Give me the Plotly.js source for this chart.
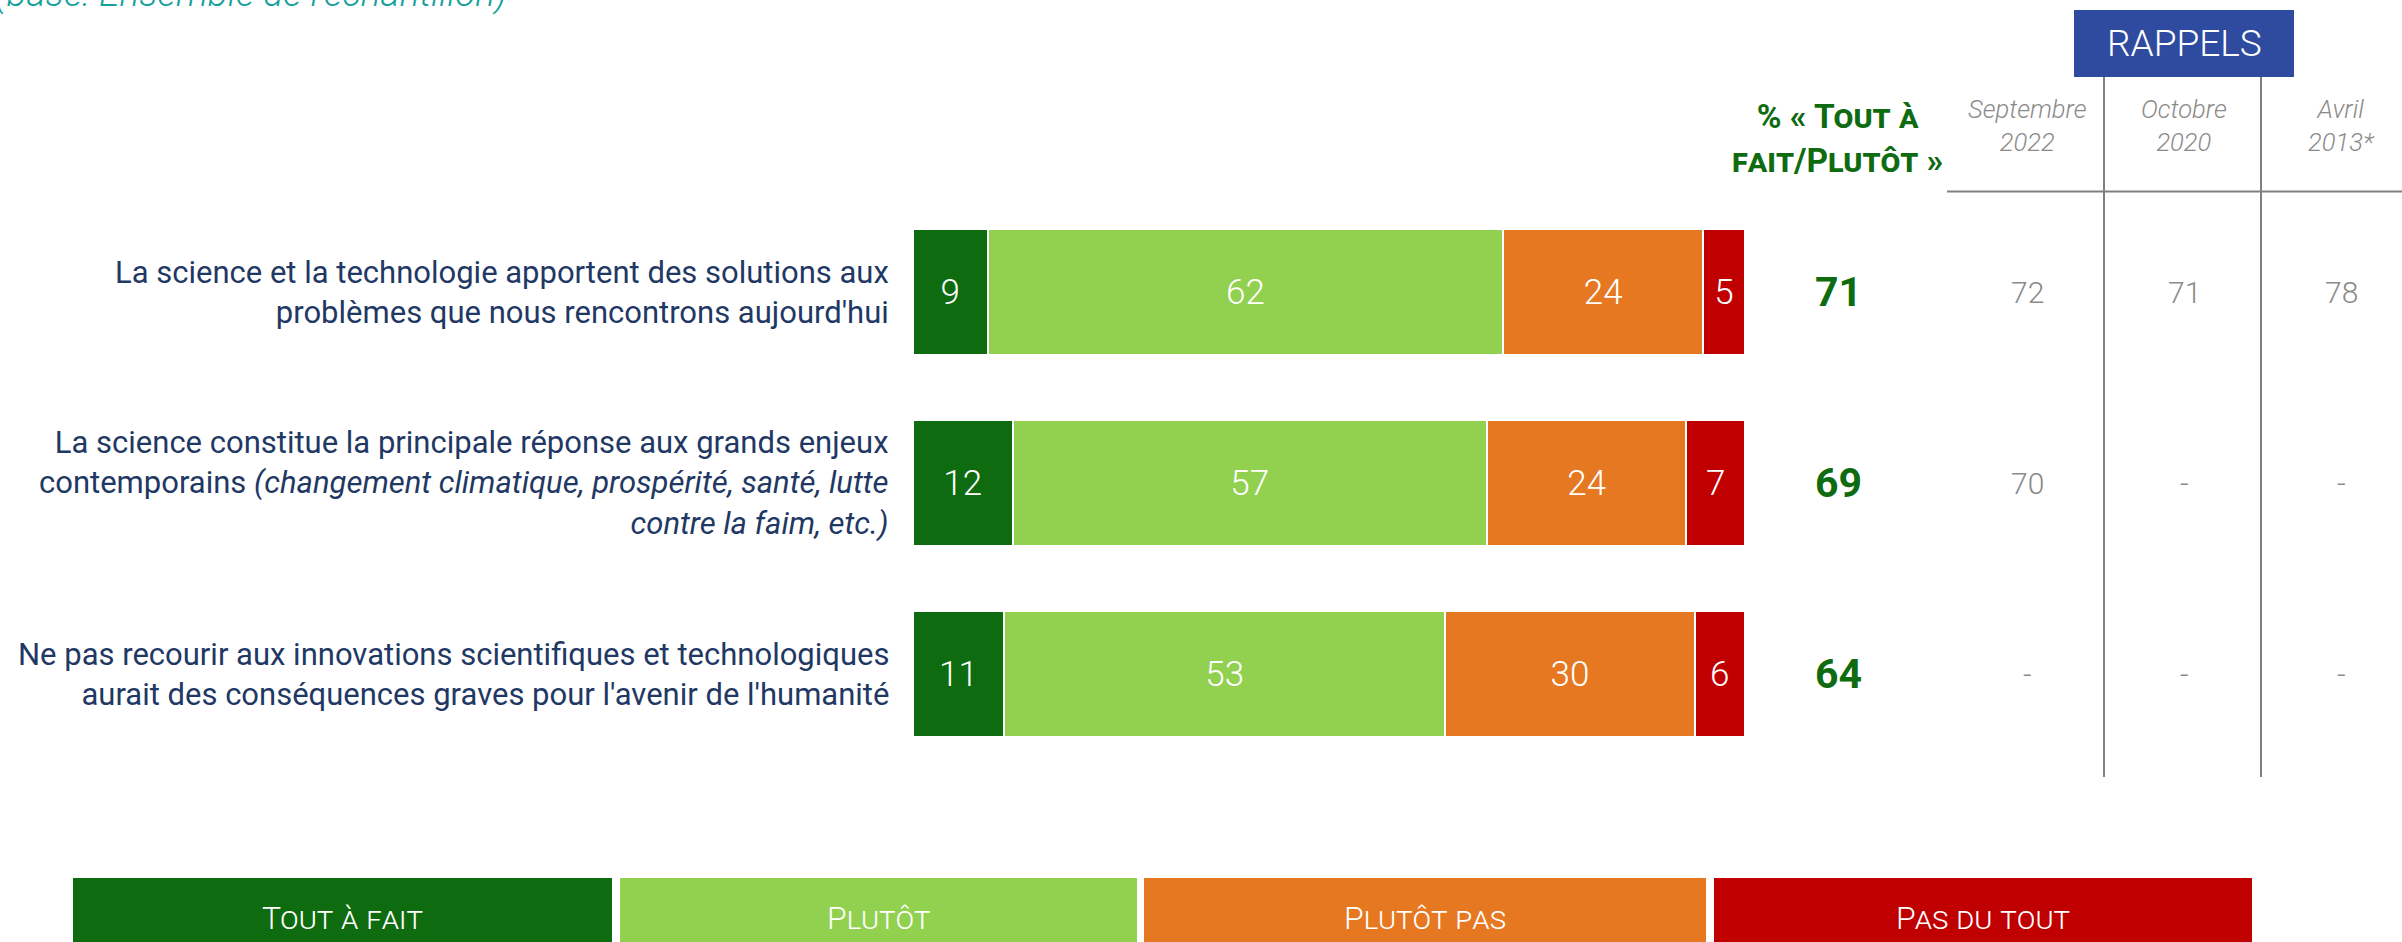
<!DOCTYPE html>
<html>
<head>
<meta charset="utf-8">
<script src="https://cdn.plot.ly/plotly-3.0.1.min.js"></script>
<style>html,body{margin:0;padding:0;background:#fff;}#chart{width:2402px;height:942px;}</style>
</head>
<body>
<div id="chart"></div>
<script>
// ---- data ----
const categories = [
  "La science et la technologie apportent des solutions aux<br>problèmes que nous rencontrons aujourd'hui",
  "La science constitue la principale réponse aux grands enjeux<br>contemporains <i>(changement climatique, prospérité, santé, lutte</i><br><i>contre la faim, etc.)</i>",
  "Ne pas recourir aux innovations scientifiques et technologiques<br>aurait des conséquences graves pour l'avenir de l'humanité"
];
const seriesNames = ["Tout à fait", "Plutôt", "Plutôt pas", "Pas du tout"];
const toutAFait = [9, 12, 11];
const plutot = [62, 57, 53];
const plutotPas = [24, 24, 30];
const pasDuTout = [5, 7, 6];
const totalPositif = [71, 69, 64];
const rappelHeaders = ["Septembre<br>2022", "Octobre<br>2020", "Avril<br>2013*"];
const rappelSept2022 = ["72", "70", "-"];
const rappelOct2020 = ["71", "-", "-"];
const rappelAvr2013 = ["78", "-", "-"];
const subtitle = "(base: Ensemble de l'échantillon)";
const totalHeader = "% « Tout à<br>fait/Plutôt »";
const rappelTitle = "RAPPELS";

// ---- styles ----
const W = 2402, H = 942;
const colors = ["#0E6B10", "#92D050", "#E67822", "#C00000"];
const FONT = "Roboto, 'Noto Sans', sans-serif";
const navy = "#1F3864";
const grey = "#8A8A8A";
const px = v => v / W;            // x pixel -> paper
const py = v => 1 - v / H;        // y pixel (from top) -> paper

const seriesValues = [toutAFait, plutot, plutotPas, pasDuTout];
const traces = seriesValues.map((vals, k) => ({
  type: "bar",
  orientation: "h",
  name: seriesNames[k],
  y: categories,
  x: vals,
  width: 0.655,
  marker: {color: colors[k], line: {color: "#ffffff", width: 2}},
  text: vals.map(String),
  textposition: "inside",
  insidetextanchor: "middle",
  textangle: 0,
  constraintext: "none",
  textfont: {family: FONT, size: 35, color: "#ffffff", weight: 300},
  hoverinfo: "skip",
  showlegend: false
}));

const annotations = [];
// row labels
categories.forEach(c => annotations.push({
  xref: "x", yref: "y", x: 0, y: c, xanchor: "right", yanchor: "middle",
  xshift: -22, text: c, showarrow: false, align: "right",
  font: {family: FONT, size: 31, color: navy}
}));
// totals
categories.forEach((c, i) => annotations.push({
  xref: "paper", yref: "y", x: px(1838), y: c, xanchor: "center", yanchor: "middle",
  text: String(totalPositif[i]), showarrow: false,
  font: {family: FONT, size: 41, color: "#0E6B10", weight: 700}
}));
// rappels
const rappelCols = [rappelSept2022, rappelOct2020, rappelAvr2013];
const rappelX = [2027, 2184, 2341];
rappelCols.forEach((col, j) => {
  categories.forEach((c, i) => annotations.push({
    xref: "paper", yref: "y", x: px(rappelX[j]), y: c, xanchor: "center", yanchor: "middle",
    text: col[i], showarrow: false,
    font: {family: FONT, size: 30, color: grey, weight: 300}
  }));
  annotations.push({
    xref: "paper", yref: "paper", x: px(rappelX[j]), y: py(126), xanchor: "center", yanchor: "middle",
    text: "<i>" + rappelHeaders[j] + "</i>", showarrow: false,
    font: {family: FONT, size: 25.5, color: grey, weight: 300}
  });
});
// total header
annotations.push({
  xref: "paper", yref: "paper", x: px(1837), y: py(139), xanchor: "center", yanchor: "middle",
  text: totalHeader, showarrow: false,
  font: {family: FONT, size: 33.5, color: "#0E6B10", weight: 700, variant: "small-caps"}
});
// RAPPELS title
annotations.push({
  xref: "paper", yref: "paper", x: px(2184), y: py(44), xanchor: "center", yanchor: "middle",
  text: rappelTitle, showarrow: false,
  font: {family: FONT, size: 37, color: "#ffffff", weight: 300}
});
// subtitle (partially cut at top, as in the reference)
annotations.push({
  xref: "paper", yref: "paper", x: 0, y: 1, xanchor: "left", yanchor: "bottom",
  xshift: -7, yshift: -17, text: "<i>" + subtitle + "</i>", showarrow: false,
  font: {family: FONT, size: 37, color: "#14A09B", weight: 300}
});

const shapes = [
  {type: "rect", xref: "paper", yref: "paper", x0: px(2074), x1: px(2294), y0: py(77), y1: py(10),
   fillcolor: "#2F4B9F", line: {width: 0}},
  {type: "line", xref: "paper", yref: "paper", x0: px(1947), x1: 1, y0: py(191.5), y1: py(191.5),
   line: {color: "#808080", width: 2}},
  {type: "line", xref: "paper", yref: "paper", x0: px(2104), x1: px(2104), y0: py(77), y1: py(777),
   line: {color: "#808080", width: 2}},
  {type: "line", xref: "paper", yref: "paper", x0: px(2261), x1: px(2261), y0: py(77), y1: py(777),
   line: {color: "#808080", width: 2}}
];
// legend boxes
const legendX = [[73, 612], [620, 1137], [1144, 1706], [1714, 2252]];
seriesNames.forEach((n, k) => {
  shapes.push({type: "rect", xref: "paper", yref: "paper", x0: px(legendX[k][0]), x1: px(legendX[k][1]),
    y0: py(960), y1: py(878), fillcolor: colors[k], line: {width: 0}});
  annotations.push({
    xref: "paper", yref: "paper", x: px((legendX[k][0] + legendX[k][1]) / 2), y: py(918),
    xanchor: "center", yanchor: "middle", text: n, showarrow: false,
    font: {family: FONT, size: 32, color: "#ffffff", weight: 300, variant: "small-caps"}
  });
});

const layout = {
  width: W, height: H,
  margin: {l: 0, r: 0, t: 0, b: 0},
  paper_bgcolor: "#ffffff", plot_bgcolor: "#ffffff",
  barmode: "stack",
  bargap: 0,
  xaxis: {range: [-109.7, 179], visible: false, fixedrange: true},
  yaxis: {type: "category", categoryorder: "array", categoryarray: categories,
          range: [3.403, -1.529], visible: false, fixedrange: true},
  showlegend: false,
  annotations: annotations,
  shapes: shapes,
  hovermode: false
};

Plotly.newPlot("chart", traces, layout, {displayModeBar: false, staticPlot: true});
</script>
</body>
</html>
